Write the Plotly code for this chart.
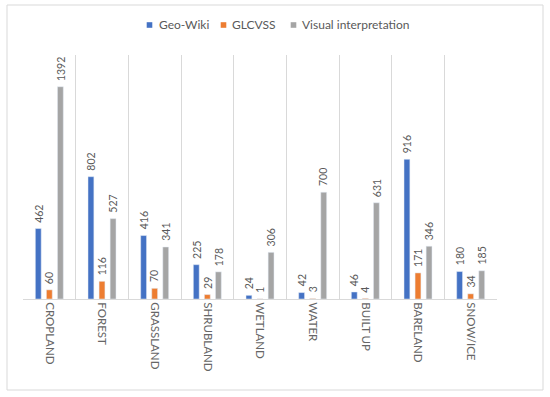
import plotly.graph_objects as go

categories = ["CROPLAND", "FOREST", "GRASSLAND", "SHRUBLAND", "WETLAND",
              "WATER", "BUILT UP", "BARELAND", "SNOW/ICE"]
geo_wiki = [462, 802, 416, 225, 24, 42, 46, 916, 180]
glcvss = [60, 116, 70, 29, 1, 3, 4, 171, 34]
visual = [1392, 527, 341, 178, 306, 700, 631, 346, 185]

series_names = ["Geo-Wiki", "GLCVSS", "Visual interpretation"]
series_values = [geo_wiki, glcvss, visual]
series_colors = ["#4472C4", "#ED7D31", "#A5A5A5"]

FONT = "Lato"
TXT = "#595959"

# figure / plot-area geometry (pixels)
W, H = 550, 397
l, r, t, b = 23, 53, 55, 98
pw = W - l - r
ph = H - t - b
BARGAP = 0.37
BARGROUPGAP = 0.47
slot = pw / len(categories) * (1 - BARGAP) / len(series_names)


def px_x(p):
    return (p - l) / pw


def px_y(p):
    return (H - b - p) / ph


fig = go.Figure()
annotations = []
for i, (name, vals, col) in enumerate(zip(series_names, series_values, series_colors)):
    fig.add_trace(go.Bar(
        x=categories, y=vals, name=name, marker_color=col,
        showlegend=False, hoverinfo="x+y+name",
    ))
    # value labels, placed above each bar with a small gap
    for c, v in zip(categories, vals):
        annotations.append(dict(
            x=c, y=v, xref="x", yref="y", text=str(v), showarrow=False,
            textangle=-90, xanchor="center", yanchor="bottom",
            xshift=(i - 1) * slot, yshift=4,
            font=dict(family=FONT, size=10.5, color=TXT),
        ))

shapes = [dict(type="rect", xref="paper", yref="paper",
               x0=px_x(7), x1=px_x(543), y0=px_y(390), y1=px_y(5),
               line=dict(color="#d9d9d9", width=1),
               fillcolor="rgba(0,0,0,0)", layer="below")]

# compact Excel-like legend
leg_square_x = [146.7, 220.7, 290.7]
leg_text_x = [156.5, 229.5, 299.5]
leg_y = 25
for name, col, sx, tx in zip(series_names, series_colors, leg_square_x, leg_text_x):
    shapes.append(dict(type="rect", xref="paper", yref="paper",
                       x0=px_x(sx), x1=px_x(sx + 5.6),
                       y0=px_y(leg_y + 2.8), y1=px_y(leg_y - 2.8),
                       line=dict(width=0), fillcolor=col))
    annotations.append(dict(text=name, xref="paper", yref="paper",
                            x=px_x(tx), y=px_y(leg_y), xanchor="left",
                            yanchor="middle", showarrow=False,
                            font=dict(family=FONT, size=12, color=TXT)))

fig.update_layout(
    width=W, height=H,
    margin=dict(l=l, r=r, t=t, b=b, autoexpand=False),
    paper_bgcolor="white", plot_bgcolor="white",
    barmode="group", bargap=BARGAP, bargroupgap=BARGROUPGAP,
    font=dict(family=FONT, color=TXT),
    shapes=shapes, annotations=annotations,
    showlegend=False,
    xaxis=dict(
        showline=True, linecolor="#d9d9d9", linewidth=1,
        showgrid=True, gridcolor="#d9d9d9", gridwidth=1,
        tickson="boundaries", ticks="", tickangle=90,
        tickfont=dict(family=FONT, size=11.5, color="#666666"),
        fixedrange=True, automargin=False,
    ),
    yaxis=dict(range=[0, 1600], visible=False, showgrid=False,
               zeroline=False, fixedrange=True),
)

fig.write_html("out.html", config={"displayModeBar": False},
               post_script="document.body.style.margin='0';")
